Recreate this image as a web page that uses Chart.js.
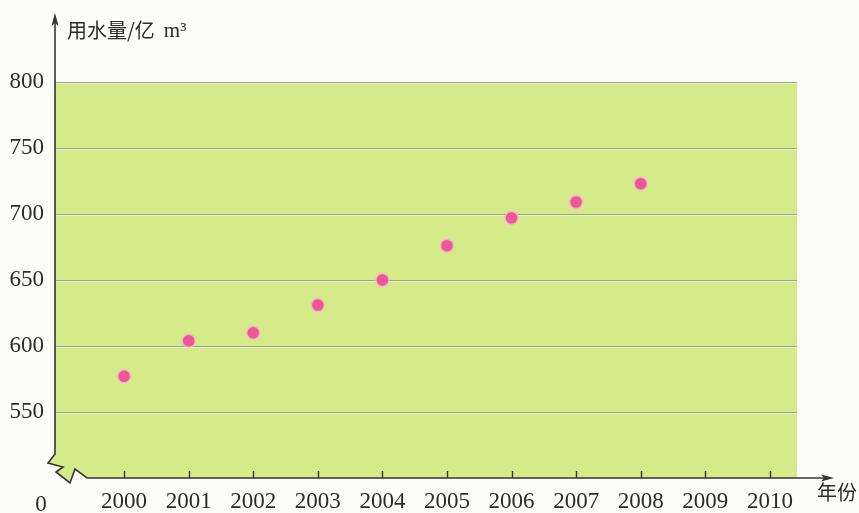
<!DOCTYPE html>
<html lang="zh">
<head>
<meta charset="utf-8">
<title>用水量</title>
<script src="https://cdn.jsdelivr.net/npm/chart.js@4.4.1/dist/chart.umd.min.js"></script>
<style>
  html, body { margin: 0; padding: 0; background: #fcfcfa; }
  #wrap { width: 859px; height: 513px; }
</style>
</head>
<body>
<div id="wrap"><canvas id="waterChart" width="859" height="513"></canvas></div>
<script>
// yearly water use, 亿 m³
const years = [2000, 2001, 2002, 2003, 2004, 2005, 2006, 2007, 2008];
const waterUse = [577, 604, 610, 631, 650, 676, 697, 709, 723];

const yearTicks = [2000, 2001, 2002, 2003, 2004, 2005, 2006, 2007, 2008, 2009, 2010];
const valueTicks = [550, 600, 650, 700, 750, 800];

const SERIF = '"Liberation Serif", "DejaVu Serif", serif';
const CJK = '"Noto Sans CJK SC", "Noto Sans", sans-serif';
const AXIS_COLOR = "#353535";
const TEXT_COLOR = "#2c2c2c";

// green panel, axes with arrows, the broken-axis mark and the axis titles
const axesPlugin = {
  id: "textbookAxes",
  beforeDraw(chart) {
    const { ctx, chartArea } = chart;
    const L = chartArea.left, R = chartArea.right;
    const T = chartArea.top, B = chartArea.bottom;

    ctx.save();
    ctx.fillStyle = "#d5ea88";
    ctx.beginPath();
    ctx.moveTo(L, T);
    ctx.lineTo(R, T);
    ctx.lineTo(R, B);
    ctx.lineTo(L + 32, B);
    ctx.lineTo(L + 20, B - 9);
    ctx.lineTo(L + 15, B + 5);
    ctx.lineTo(L + 1, B - 6);
    ctx.lineTo(L + 8, B - 11);
    ctx.lineTo(L - 7, B - 15);
    ctx.lineTo(L, B - 24);
    ctx.closePath();
    ctx.fill();
    ctx.restore();
  },
  beforeDatasetsDraw(chart) {
    const { ctx, chartArea, scales } = chart;
    const L = chartArea.left, R = chartArea.right;
    const B = chartArea.bottom;
    const yScale = scales.y;
    const xScale = scales.x;

    ctx.save();

    // pale line under each grid line
    ctx.strokeStyle = "rgba(255,255,255,0.55)";
    ctx.lineWidth = 1;
    valueTicks.forEach((v) => {
      const y = Math.round(yScale.getPixelForValue(v)) + 1.5;
      ctx.beginPath();
      ctx.moveTo(L, y);
      ctx.lineTo(R, y);
      ctx.stroke();
    });

    // y axis, zigzag break, x axis
    const yTop = 13;
    const xEnd = 834;
    ctx.strokeStyle = AXIS_COLOR;
    ctx.lineWidth = 1.6;
    ctx.lineJoin = "miter";
    ctx.beginPath();
    ctx.moveTo(L, yTop + 8);
    ctx.lineTo(L, B - 24);
    ctx.lineTo(L - 7, B - 15);
    ctx.lineTo(L + 8, B - 11);
    ctx.lineTo(L + 1, B - 6);
    ctx.lineTo(L + 15, B + 5);
    ctx.lineTo(L + 20, B - 9);
    ctx.lineTo(L + 32, B);
    ctx.lineTo(xEnd - 8, B);
    ctx.stroke();

    // arrow heads
    ctx.fillStyle = AXIS_COLOR;
    ctx.beginPath();
    ctx.moveTo(L, yTop);
    ctx.lineTo(L - 3.5, yTop + 13);
    ctx.lineTo(L, yTop + 10);
    ctx.lineTo(L + 3.5, yTop + 13);
    ctx.closePath();
    ctx.fill();
    ctx.beginPath();
    ctx.moveTo(xEnd, B);
    ctx.lineTo(xEnd - 13, B - 3.5);
    ctx.lineTo(xEnd - 10, B);
    ctx.lineTo(xEnd - 13, B + 3.5);
    ctx.closePath();
    ctx.fill();

    // year tick marks pointing up into the panel
    ctx.lineWidth = 1.4;
    yearTicks.forEach((v) => {
      const x = Math.round(xScale.getPixelForValue(v)) + 0.5;
      ctx.beginPath();
      ctx.moveTo(x, B);
      ctx.lineTo(x, B - 7);
      ctx.stroke();
    });

    // origin label, axis titles
    ctx.fillStyle = TEXT_COLOR;
    ctx.textBaseline = "middle";
    ctx.textAlign = "center";
    ctx.font = "23px " + SERIF;
    ctx.fillText("0", 41, B + 27);

    ctx.textAlign = "left";
    ctx.font = "20px " + CJK;
    const part = "用水量/亿";
    ctx.fillText(part, 67, 30);
    const w = ctx.measureText(part).width;
    ctx.font = "21px " + SERIF;
    ctx.fillText("m³", 67 + w + 9, 31);

    ctx.font = "20px " + CJK;
    ctx.fillText("年份", 817, B + 14);

    ctx.restore();
  },
};

const points = years.map((yr, i) => ({ x: yr, y: waterUse[i] }));

new Chart(document.getElementById("waterChart"), {
  type: "scatter",
  data: {
    datasets: [
      {
        label: "用水量",
        data: points,
        backgroundColor: "#ec5896",
        borderColor: "rgba(248,182,208,0.85)",
        borderWidth: 1.5,
        pointRadius: 6.5,
      },
    ],
  },
  options: {
    responsive: false,
    animation: false,
    layout: { padding: { top: 82, right: 62, left: 0, bottom: 0 } },
    plugins: {
      legend: { display: false },
      tooltip: { enabled: false },
    },
    scales: {
      x: {
        type: "linear",
        min: 1998.93,
        max: 2010.42,
        afterBuildTicks: (scale) => {
          scale.ticks = yearTicks.map((v) => ({ value: v }));
        },
        afterFit: (scale) => {
          scale.height = 35;
        },
        grid: { display: false, drawTicks: false },
        border: { display: false },
        ticks: {
          autoSkip: false,
          maxRotation: 0,
          padding: 10,
          color: TEXT_COLOR,
          font: { family: SERIF, size: 23 },
          callback: (v) => String(v),
        },
      },
      y: {
        min: 500,
        max: 800,
        afterBuildTicks: (scale) => {
          scale.ticks = valueTicks.map((v) => ({ value: v }));
        },
        afterFit: (scale) => {
          scale.width = 55;
        },
        grid: { color: "#96a388", lineWidth: 1, drawTicks: false },
        border: { display: false },
        ticks: {
          padding: 11,
          color: TEXT_COLOR,
          font: { family: SERIF, size: 23 },
        },
      },
    },
  },
  plugins: [axesPlugin],
});
</script>
</body>
</html>
